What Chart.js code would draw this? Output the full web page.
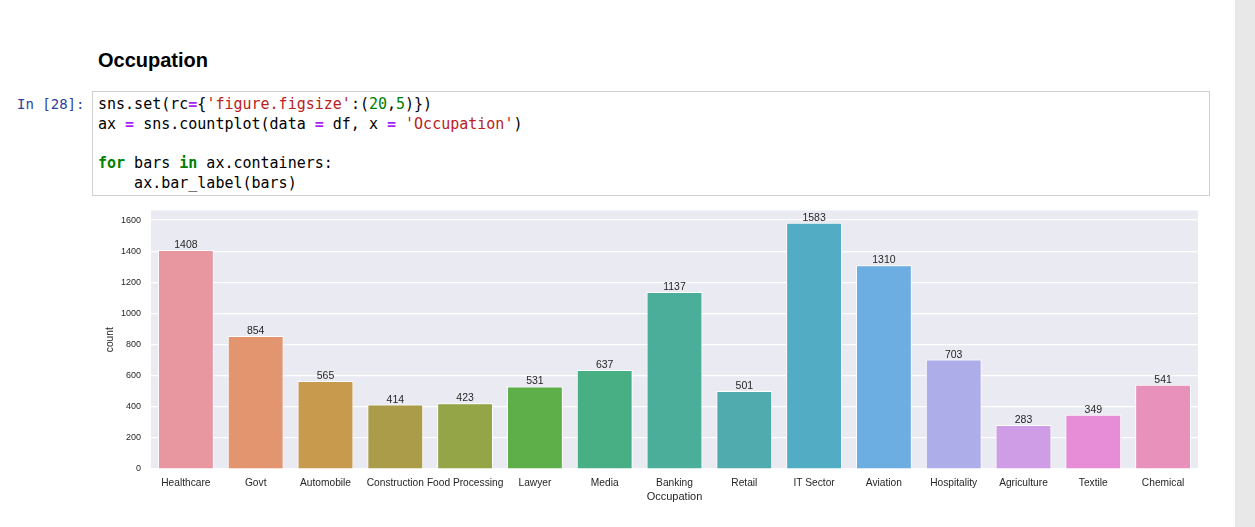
<!DOCTYPE html>
<html>
<head>
<meta charset="utf-8">
<script src="https://cdn.jsdelivr.net/npm/chart.js@4.4.1/dist/chart.umd.min.js"></script>
<style>
  html, body { margin: 0; padding: 0; background: #ffffff; width: 1255px; height: 527px; overflow: hidden; position: relative; }
  #scrollbar { position: absolute; left: 1235px; top: 0; width: 20px; height: 527px; background: #e8e8e8; }
  #heading { position: absolute; left: 98px; top: 50px; font: bold 20px "Liberation Sans", Arial, sans-serif; line-height: 20px; color: #000; }
  #prompt { position: absolute; left: 17px; top: 95px; font: 14px "DejaVu Sans Mono", monospace; line-height: 19.7px; color: #303F9F; white-space: pre; }
  #code { position: absolute; left: 92px; top: 91px; width: 1118px; height: 105px; box-sizing: border-box; border: 1px solid #cfcfcf; background: #ffffff; }
  #code pre { margin: 0; position: absolute; left: 5px; top: 3px; font: 15px "DejaVu Sans Mono", monospace; line-height: 19.7px; color: #000; }
  .op { color: #AA22FF; font-weight: bold; }
  .str { color: #BA2121; }
  .num { color: #008000; }
  .kw { color: #008000; font-weight: bold; }
  #chartBox { position: absolute; left: 98px; top: 195px; width: 1112px; height: 315px; }
</style>
</head>
<body>
<div id="scrollbar"></div>
<div id="heading">Occupation</div>
<div id="prompt">In [28]:</div>
<div id="code"><pre>sns.set(rc<span class="op">=</span>{<span class="str">'figure.figsize'</span>:(<span class="num">20</span>,<span class="num">5</span>)})
ax <span class="op">=</span> sns.countplot(data <span class="op">=</span> df, x <span class="op">=</span> <span class="str">'Occupation'</span>)

<span class="kw">for</span> bars <span class="kw">in</span> ax.containers:
    ax.bar_label(bars)</pre></div>
<div id="chartBox"><canvas id="c" width="1112" height="315"></canvas></div>
<script>
const categories = ["Healthcare", "Govt", "Automobile", "Construction", "Food Processing", "Lawyer", "Media", "Banking", "Retail", "IT Sector", "Aviation", "Hospitality", "Agriculture", "Textile", "Chemical"];
const counts = [1408, 854, 565, 414, 423, 531, 637, 1137, 501, 1583, 1310, 703, 283, 349, 541];
const barColors = ["#E8969F", "#E39570", "#C79A4D", "#AB9C4A", "#93A547", "#5EAE4A", "#48AF84", "#4AAE9A", "#4FABAD", "#52ADC4", "#6CAEE2", "#ADADEA", "#CE9DE6", "#E78DD7", "#E891BB"];
const yTickValues = [0, 200, 400, 600, 800, 1000, 1200, 1400, 1600];
const yTickLabels = ["0", "200", "400", "600", "800", "1000", "1200", "1400", "1600"];
const yMax = 1662;
const xTitle = "Occupation";
const yTitle = "count";

const bgPlugin = {
  id: 'plotBg',
  beforeDraw(chart) {
    const {ctx, chartArea: a} = chart;
    ctx.save();
    ctx.fillStyle = '#EAEAF2';
    ctx.fillRect(a.left, a.top, a.right - a.left, a.bottom - a.top);
    ctx.restore();
  }
};
const labelPlugin = {
  id: 'barLabels',
  afterDatasetsDraw(chart) {
    const {ctx} = chart;
    const meta = chart.getDatasetMeta(0);
    ctx.save();
    ctx.font = '10.5px "Liberation Sans", Arial, sans-serif';
    ctx.fillStyle = '#262626';
    ctx.textAlign = 'center';
    ctx.textBaseline = 'alphabetic';
    meta.data.forEach((el, i) => {
      ctx.fillText(String(counts[i]), el.x, el.y - 2);
    });
    ctx.restore();
  }
};

new Chart(document.getElementById('c'), {
  type: 'bar',
  data: {
    labels: categories,
    datasets: [{
      data: counts,
      backgroundColor: barColors,
      borderColor: '#ffffff',
      borderWidth: 1,
      barPercentage: 0.8,
      categoryPercentage: 1.0
    }]
  },
  options: {
    responsive: false,
    animation: false,
    devicePixelRatio: 1,
    layout: { padding: { left: 0, right: 12, top: 5, bottom: 0 } },
    plugins: { legend: { display: false }, tooltip: { enabled: false } },
    scales: {
      x: {
        offset: true,
        grid: { display: false, drawTicks: false },
        border: { display: false },
        ticks: { color: '#262626', padding: 8, maxRotation: 0, autoSkip: false, font: { family: '"Liberation Sans", Arial, sans-serif', size: 10.2 } },
        title: { display: true, text: xTitle, color: '#262626', padding: { top: 0, bottom: 6 }, font: { family: '"Liberation Sans", Arial, sans-serif', size: 11 } },
        afterFit(scale) { scale.height = 41; }
      },
      y: {
        min: 0,
        max: yMax,
        grid: { color: '#ffffff', lineWidth: 1.2, drawTicks: false },
        border: { display: false },
        afterBuildTicks(scale) { scale.ticks = yTickValues.map(v => ({ value: v })); },
        ticks: {
          color: '#262626', padding: 10,
          font: { family: '"Liberation Sans", Arial, sans-serif', size: 9 },
          callback: (value) => yTickLabels[yTickValues.indexOf(value)]
        },
        title: { display: true, text: yTitle, color: '#262626', padding: { top: 6, bottom: 0 }, font: { family: '"Liberation Sans", Arial, sans-serif', size: 10.2 } },
        afterFit(scale) { scale.width = 53; }
      }
    }
  },
  plugins: [bgPlugin, labelPlugin]
});
</script>
</body>
</html>
